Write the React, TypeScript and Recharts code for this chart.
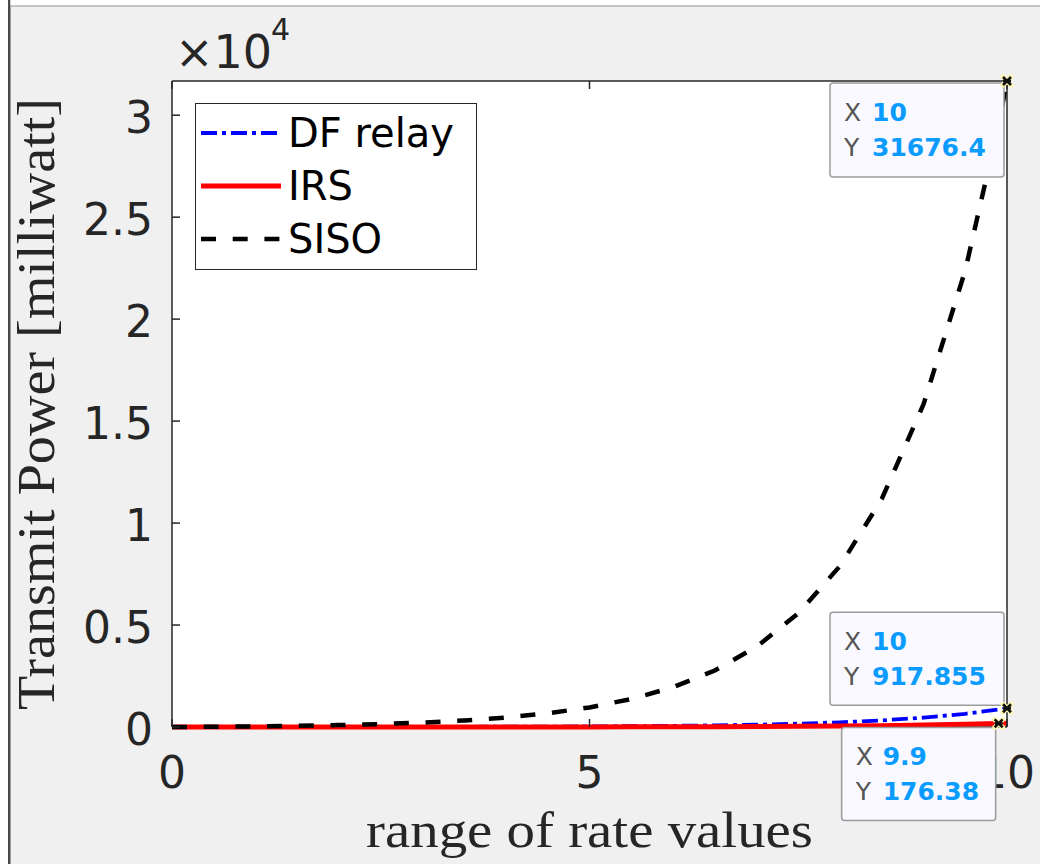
import React, { useState } from 'react';
import { createPortal } from 'react-dom';
import { LineChart, Line, XAxis, YAxis, CartesianGrid, Legend, ReferenceDot } from 'recharts';

// Achievable rate (x) and the transmit power each scheme needs (milliwatt)
const rates = [0, 0.5, 1, 1.5, 2, 2.5, 3, 3.5, 4, 4.5, 5, 5.5, 6, 6.5, 7, 7.5, 8, 8.5, 9, 9.5, 9.9, 10];
const dfRelay = [0, 0.37, 0.9, 1.64, 2.69, 4.18, 6.28, 9.25, 13.46, 19.4, 27.81, 39.71, 56.53, 80.31, 113.95, 161.52, 228.79, 323.93, 458.48, 648.76, 856.33, 917.855];
const irs = [0, 0.08, 0.18, 0.34, 0.55, 0.86, 1.29, 1.91, 2.77, 4.0, 5.73, 8.18, 11.64, 16.54, 23.47, 33.27, 47.12, 66.72, 94.43, 133.62, 176.38, 189.05];
const siso = [0, 12.8, 31.0, 56.6, 92.9, 144.2, 216.7, 319.4, 464.5, 669.7, 959.9, 1370.3, 1950.7, 2771.6, 3932.5, 5574.2, 7895.9, 11179.2, 15822.7, 22389.4, 29553.0, 31676.4];

const xTicks = [0, 5, 10];
const yTicks = [0, 5000, 10000, 15000, 20000, 25000, 30000];
const yMax = 31676.4;

const seriesNames = { df: 'DF relay', irs: 'IRS', siso: 'SISO' };

// data-tip anchors: which series and which sample they point at
const tipSeries = ['siso', 'df', 'irs'] as const;
const tipIndex = [21, 21, 20];

const rows = rates.map((rate, i) => ({ rate, df: dfRelay[i], irs: irs[i], siso: siso[i] }));
const seriesValues: Record<string, number[]> = { df: dfRelay, irs, siso };

// ---- styling ----
const INK = '#262626';
const TICK_FONT = 'DejaVu Sans';
const LABEL_FONT = '"Liberation Serif", "DejaVu Serif", serif';
const TICK_LEN = 8;
const LEFT_GAP = 19;

const lineStyle: Record<string, { stroke: string; width: number; dash?: string }> = {
  df: { stroke: '#0000ff', width: 3.8, dash: '16 5 4 5' },
  irs: { stroke: '#ff0000', width: 5 },
  siso: { stroke: '#000000', width: 4.5, dash: '15 16.7' },
};

// tip box placement relative to its marker
const tipPlacement: Record<string, { dx: number; dy: number; w: number; h: number }> = {
  siso: { dx: -177, dy: 2, w: 174, h: 94 },
  df: { dx: -177, dy: -96, w: 174, h: 93 },
  irs: { dx: -157, dy: 4, w: 154, h: 93 },
};

const fmtPower = (v: number) => String(v / 10000);

function LeftTick(props: any) {
  const { x, y, payload } = props;
  const ax = x + LEFT_GAP;
  return (
    <g>
      <line x1={ax} x2={ax + TICK_LEN} y1={y} y2={y} stroke={INK} strokeWidth={1.5} />
      <text x={x} y={y + 18} textAnchor="end" fontFamily={TICK_FONT} fontSize={44} fill={INK}>
        {fmtPower(payload.value)}
      </text>
    </g>
  );
}

function RightTick(props: any) {
  const { x, y } = props;
  return <line x1={x - TICK_LEN} x2={x} y1={y} y2={y} stroke={INK} strokeWidth={1.5} />;
}

function BottomTick(props: any) {
  const { x, y, payload } = props;
  return (
    <g>
      <line x1={x} x2={x} y1={y - TICK_LEN} y2={y} stroke={INK} strokeWidth={1.5} />
      <text x={x} y={y + 61} textAnchor="middle" fontFamily={TICK_FONT} fontSize={44} fill={INK}>
        {String(payload.value)}
      </text>
    </g>
  );
}

function TopTick(props: any) {
  const { x, y } = props;
  return <line x1={x} x2={x} y1={y} y2={y + TICK_LEN} stroke={INK} strokeWidth={1.5} />;
}

function DataTip(props: any) {
  const { cx, cy, series, xv, yv } = props;
  if (cx == null || cy == null) return null;
  const p = tipPlacement[series];
  const bx = cx + p.dx;
  const by = cy + p.dy;
  const labelX = bx + 14;
  const valueX = bx + (series === 'irs' ? 41 : 42);
  return (
    <g>
      <rect x={bx} y={by} width={p.w} height={p.h} rx={3} ry={3} fill="#f9f9ff" stroke="#9c9c9c" strokeWidth={1.5} />
      <text x={labelX} y={by + 38} fontFamily={TICK_FONT} fontSize={25} fill="#555555">X</text>
      <text x={valueX} y={by + 38} fontFamily={TICK_FONT} fontSize={25} fontWeight="bold" fill="#0a9bff">{String(xv)}</text>
      <text x={labelX} y={by + 73} fontFamily={TICK_FONT} fontSize={25} fill="#555555">Y</text>
      <text x={valueX} y={by + 73} fontFamily={TICK_FONT} fontSize={25} fontWeight="bold" fill="#0a9bff">{String(yv)}</text>
      <path d={`M${cx - 4} ${cy - 4} L${cx + 4} ${cy + 4} M${cx + 4} ${cy - 4} L${cx - 4} ${cy + 4}`} stroke="#fff6b0" strokeWidth={5} strokeLinecap="round" />
      <path d={`M${cx - 4} ${cy - 4} L${cx + 4} ${cy + 4} M${cx + 4} ${cy - 4} L${cx - 4} ${cy + 4} M${cx - 4} ${cy} L${cx + 4} ${cy}`} stroke="#111" strokeWidth={2.6} />
    </g>
  );
}

function LegendBox(props: any) {
  const payload = props.payload || [];
  return (
    <div style={{ width: 282, height: 167, boxSizing: 'border-box', border: `1.5px solid ${INK}`, background: '#ffffff', position: 'relative' }}>
      {payload.map((item: any, i: number) => {
        const st = lineStyle[item.dataKey];
        return (
          <div key={item.dataKey} style={{ position: 'absolute', left: 4, top: 6 + i * 53, height: 46, display: 'flex', alignItems: 'center' }}>
            <svg width={82} height={10} style={{ display: 'block' }}>
              <line x1={1} x2={81} y1={5} y2={5} stroke={st.stroke} strokeWidth={st.width} strokeDasharray={st.dash} />
            </svg>
            <span style={{ fontFamily: TICK_FONT, fontSize: 40, color: '#000', marginLeft: 6, lineHeight: '46px', whiteSpace: 'nowrap' }}>
              {item.value}
            </span>
          </div>
        );
      })}
    </div>
  );
}

export default function App() {
  // data tips are lifted into the top overlay so they sit above the tick labels
  const [tipLayer, setTipLayer] = useState<SVGGElement | null>(null);

  return (
    <div style={{ position: 'fixed', left: 0, top: 0, width: 1040, height: 864, background: '#f0f0f0', overflow: 'hidden' }}>
      <LineChart width={1040} height={864} data={rows} margin={{ top: 80, right: 32, bottom: 77, left: 112 }}>
        <CartesianGrid xAxisId="b" yAxisId="l" fill="#ffffff" vertical={false} horizontal
          horizontalValues={[0]} stroke={INK} strokeWidth={1.5} />
        <XAxis xAxisId="b" dataKey="rate" type="number" domain={[0, 10]} ticks={xTicks} height={60}
          axisLine={false} tickLine={false} tickSize={0} tickMargin={0} tick={<BottomTick />} interval={0} />
        <XAxis xAxisId="t" orientation="top" dataKey="rate" type="number" domain={[0, 10]} ticks={xTicks} height={1}
          axisLine={{ stroke: INK, strokeWidth: 1.5 }} tickLine={false} tickSize={0} tickMargin={0} tick={<TopTick />} interval={0} />
        <YAxis yAxisId="l" type="number" domain={[0, yMax]} ticks={yTicks} width={60}
          axisLine={{ stroke: INK, strokeWidth: 1.5 }} tickLine={false} tickSize={0} tickMargin={LEFT_GAP} tick={<LeftTick />} interval={0} />
        <YAxis yAxisId="r" orientation="right" type="number" domain={[0, yMax]} ticks={yTicks} width={1}
          axisLine={{ stroke: INK, strokeWidth: 1.5 }} tickLine={false} tickSize={0} tickMargin={0} tick={<RightTick />} interval={0} />
        <Legend layout="horizontal" verticalAlign="middle" align="center" content={<LegendBox />}
          wrapperStyle={{ position: 'absolute', left: 195, top: 103, width: 282, height: 167 }} />
        {(['df', 'irs', 'siso'] as const).map((k) => (
          <Line key={k} xAxisId="b" yAxisId="l" type="linear" dataKey={k} name={seriesNames[k]}
            stroke={lineStyle[k].stroke} strokeWidth={lineStyle[k].width} strokeDasharray={lineStyle[k].dash}
            dot={false} activeDot={false} isAnimationActive={false} />
        ))}
        {tipSeries.map((s, i) => {
          const xv = rates[tipIndex[i]];
          const yv = seriesValues[s][tipIndex[i]];
          return (
            <ReferenceDot key={s} xAxisId="b" yAxisId="l" x={xv} y={yv} r={4} ifOverflow="visible"
              shape={(p: any) => (tipLayer ? createPortal(<DataTip {...p} series={s} xv={xv} yv={yv} />, tipLayer) : <g />)} />
          );
        })}
      </LineChart>
      <svg width={1040} height={864} style={{ position: 'absolute', left: 0, top: 0, pointerEvents: 'none' }}>
        <text x={175} y={68} fontFamily={TICK_FONT} fontSize={46} fill={INK}>×10</text>
        <text x={271} y={40} fontFamily={TICK_FONT} fontSize={30} fill={INK}>4</text>
        <text transform="translate(54,404) rotate(-90)" textAnchor="middle" fontFamily={LABEL_FONT} fontSize={52}
          fill={INK} textLength={612} lengthAdjust="spacingAndGlyphs">Transmit Power [milliwatt]</text>
        <text x={589.5} y={847} textAnchor="middle" fontFamily={LABEL_FONT} fontSize={50} fill={INK}
          textLength={447} lengthAdjust="spacingAndGlyphs">range of rate values</text>
        <rect x={0} y={0} width={8} height={864} fill="#ffffff" />
        <rect x={8} y={0} width={2.5} height={864} fill="#4a4a4a" />
        <rect x={10.5} y={0} width={1030} height={5} fill="#ffffff" />
        <rect x={10.5} y={5} width={1030} height={2} fill="#c4c4c4" />
        <g ref={setTipLayer} />
      </svg>
    </div>
  );
}
